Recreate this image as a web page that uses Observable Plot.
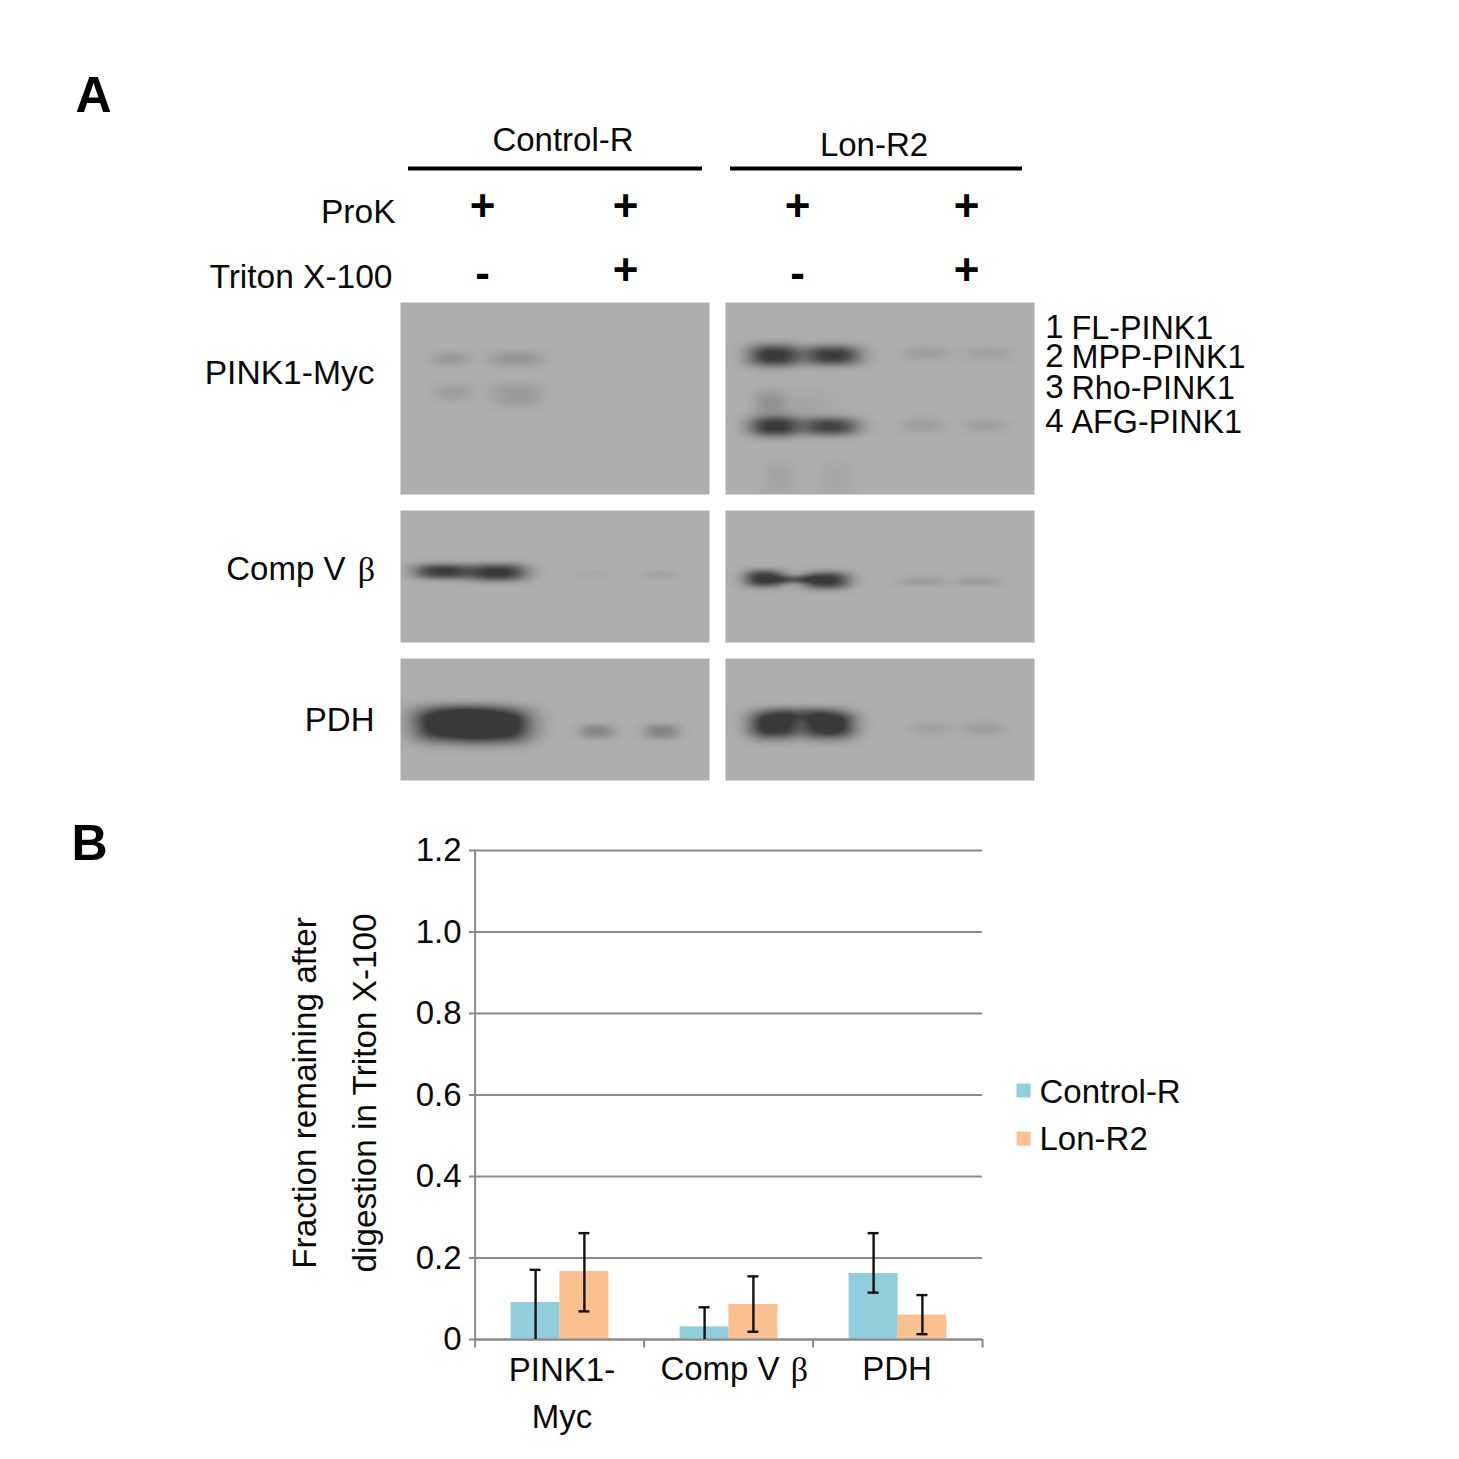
<!DOCTYPE html>
<html><head><meta charset="utf-8">
<script src="https://cdn.jsdelivr.net/npm/d3@7"></script>
<script src="https://cdn.jsdelivr.net/npm/@observablehq/plot@0.6"></script>
<style>
html,body{margin:0;padding:0;background:#fff;overflow:hidden}
svg{display:block}
</style></head><body>
<div id="chart"></div>
<script>
// ---- Panel B data
const categories = ["PINK1-Myc", "Comp V β", "PDH"];
const seriesNames = ["Control-R", "Lon-R2"];
const controlValues = [0.091, 0.031, 0.162];
const controlHigh   = [0.171, 0.079, 0.261];
const controlLow    = [0,     0,     0.115];
const lonValues = [0.167, 0.086, 0.060];
const lonHigh   = [0.261, 0.155, 0.109];
const lonLow    = [0.069, 0.019, 0.013];
const yTicks = [0, 0.2, 0.4, 0.6, 0.8, 1.0, 1.2];

// ---- Panel A data: blot lanes
// each band lobe: [centre x, centre y, half width, half height, darkness]
const blotColumns = [[400, 709], [725, 1034]];
const blotRows = [[302, 494], [510, 642], [658, 780]];
const bandLobes = [
  // PINK1-Myc, Control-R
  [450,358,19,7,.18],[516,358,26,8,.22],[452,392,19,9,.13],[516,394,25,12,.18],
  // PINK1-Myc, Lon-R2
  [774,355,26,11,1.05],[832,355,28,10,1.0],[774,426,25,10,1.0],[830,426,28,9,.9],
  [769,403,16,13,.20],[800,410,40,22,.08],[779,477,17,17,.09],[836,477,17,17,.07],
  [927,353,24,7,.13],[988,353,24,7,.11],[922,425,22,8,.12],[985,425,22,7,.12],
  // Comp V beta, Control-R
  [442,571,28,7.5,1.0],[497,572,29,8.5,1.05],[592,573,18,4,.05],[659,574,18,5,.09],
  // Comp V beta, Lon-R2
  [764,578,20,8.5,1.05],[826,580,23,8.5,1.05],[795,579,20,4,.6],[922,581,24,5,.15],[978,581,21,5,.17],
  // PDH, Control-R
  [447,725,33,16,1.3],[497,726,33,16,1.3],[470,712,50,9,.4],[596,731,18,7,.34],[661,731,18,7.5,.36],
  // PDH, Lon-R2
  [774,725,25,13,1.2],[828,725,26,13,1.25],[800,713,40,7,.45],[931,728,22,7,.10],[983,728,22,7,.13]
];

// ---- Text of panel A
const groupLabels = ["Control-R", "Lon-R2"];
const rowLabels = ["ProK", "Triton X-100"];
const proKSigns = ["+", "+", "+", "+"];
const tritonSigns = ["-", "+", "-", "+"];
const blotLabels = ["PINK1-Myc", "Comp V", "PDH"];
const formNumbers = ["1", "2", "3", "4"];
const formNames = ["FL-PINK1", "MPP-PINK1", "Rho-PINK1", "AFG-PINK1"];

const sans = "'Liberation Sans', Arial, sans-serif";
const serif = "'Liberation Serif', 'Times New Roman', serif";
const gel = (x, y) => {
  let d = 0;
  for (const [cx, cy, sx, sy, a] of bandLobes) {
    const u = Math.abs(x - cx) / sx, v = Math.abs(y - cy) / sy;
    d += a * Math.exp(-(Math.pow(u, 2.6) + Math.pow(v, 2.6)));
  }
  return Math.min(d, 1);
};
const blots = blotColumns.flatMap(([x1, x2]) => blotRows.map(([y1, y2]) =>
  Plot.raster({x1, x2, y1, y2, fill: gel, pixelSize: 1})));
const signX = [482, 625, 797, 966];
const T = (data, o) => Plot.text(data, {fontFamily: sans, fontSize: 33, fill: "#0a0a0a", lineAnchor: "middle", ...o});

const panelA = Plot.plot({
  width: 1459, height: 800,
  marginTop: 0, marginRight: 0, marginBottom: 0, marginLeft: 0,
  style: {background: "transparent"},
  x: {domain: [0, 1459], range: [0, 1459], axis: null},
  y: {domain: [0, 800], range: [0, 800], axis: null},
  color: {type: "linear", domain: [0, 1], range: ["#aeaeae", "#3a3a3a"], clamp: true},
  marks: [
    ...blots,
    T(["A"], {x: 75, y: 95, textAnchor: "start", fontSize: 50, fontWeight: "bold", fill: "#000"}),
    T(groupLabels, {x: (d, i) => [562.5, 873.5][i], y: (d, i) => [140, 145][i]}),
    Plot.ruleY(groupLabels, {y: 168, x1: (d, i) => [408, 730][i], x2: (d, i) => [702, 1022][i], stroke: "#000", strokeWidth: 4}),
    T(rowLabels, {x: (d, i) => [395, 392][i], y: (d, i) => [212, 277][i], textAnchor: "end", fontSize: 33.5}),
    T(proKSigns, {x: (d, i) => signX[i], y: 206, fontSize: 44, fontWeight: "bold", fill: "#000"}),
    T(tritonSigns, {x: (d, i) => signX[i], y: (d) => d === "+" ? 270 : 273, fontSize: 44, fontWeight: "bold", fill: "#000"}),
    T(blotLabels, {x: (d, i) => [374, 345, 374][i], y: (d, i) => [373, 569, 720][i], textAnchor: "end", fontSize: (d, i) => i === 0 ? 33.6 : 33}),
    T(["β"], {x: 366, y: 570, fontFamily: serif, fontSize: 34}),
    T(formNumbers, {x: 1063, y: (d, i) => [327, 356, 387, 421][i], textAnchor: "end"}),
    T(formNames, {x: 1071, y: (d, i) => [328, 357, 388, 422][i], textAnchor: "start", fontSize: 32.3})
  ]
});

// ---- Panel B
const bars = categories.map((c, i) => ({cat: c, series: seriesNames[0], value: controlValues[i], hi: controlHigh[i], lo: controlLow[i]}))
  .concat(categories.map((c, i) => ({cat: c, series: seriesNames[1], value: lonValues[i], hi: lonHigh[i], lo: lonLow[i]})));
const half = 24.4;
const ofSeries = (s) => bars.filter((d) => d.series === seriesNames[s]);
const seriesMarks = [0, 1].flatMap((s) => {
  const dx = s === 0 ? -half : half;
  return [Plot.barY(ofSeries(s), {x: "cat", y: "value", fill: "series", dx, insetLeft: 60, insetRight: 60})];
});
const errorMarks = [0, 1].flatMap((s) => {
  const dx = s === 0 ? -half : half;
  const data = ofSeries(s);
  return [
    Plot.ruleX(data, {x: "cat", y1: "lo", y2: "hi", dx, stroke: "#111", strokeWidth: 2.4}),
    Plot.tickY(data, {x: "cat", y: "hi", dx, stroke: "#111", strokeWidth: 2.4, insetLeft: 79, insetRight: 79}),
    Plot.tickY(data.filter((d) => d.lo > 0), {x: "cat", y: "lo", dx, stroke: "#111", strokeWidth: 2.4, insetLeft: 79, insetRight: 79})
  ];
});
const axisGray = "#8a8a8a";
const panelB = Plot.plot({
  width: 1459, height: 659,
  marginTop: 50, marginRight: 477, marginBottom: 120, marginLeft: 474,
  style: {background: "transparent", fontFamily: sans},
  x: {domain: categories, padding: 0, axis: null},
  y: {domain: [0, 1.2], axis: null},
  color: {domain: seriesNames, range: ["#92cddc", "#fac090"]},
  marks: [
    Plot.ruleY(yTicks, {stroke: axisGray, strokeWidth: 2}),
    Plot.tickY(yTicks, {x: () => categories[0], y: (d) => d, insetRight: 163, dx: -6, stroke: axisGray, strokeWidth: 2}),
    ...seriesMarks,
    Plot.ruleY([0], {stroke: axisGray, strokeWidth: 2}),
    Plot.ruleX(categories, {x: (d) => d, y1: 0, y2: -0.021, dx: -84.9, stroke: axisGray, strokeWidth: 2}),
    Plot.ruleX(categories.slice(-1), {x: (d) => d, y1: 0, y2: -0.021, dx: 84.6, stroke: axisGray, strokeWidth: 2}),
    Plot.ruleX(categories.slice(0, 1), {x: (d) => d, y1: 0, y2: 1.2, dx: -84.9, stroke: axisGray, strokeWidth: 2}),
    ...errorMarks,
    T(yTicks, {frameAnchor: "left", y: (d) => d, dx: -13, textAnchor: "end", text: (d) => d === 0 ? "0" : d.toFixed(1)}),
    T(["PINK1-\nMyc"], {x: () => categories[0], y: 0, dy: 9, lineAnchor: "top", dx: 2, lineHeight: 1.4}),
    T(["Comp V"], {x: () => categories[1], y: 0, dy: 17, lineAnchor: "top", dx: -9}),
    T(["β"], {x: () => categories[1], y: 0, dy: 17, lineAnchor: "top", dx: 70.5, fontFamily: serif, fontSize: 34}),
    T(["PDH"], {x: () => categories[2], y: 0, dy: 17, lineAnchor: "top", dx: -1}),
    T(["Fraction remaining after\ndigestion in Triton X-100"], {frameAnchor: "left", y: 0.605, dx: -148, textAnchor: "middle", rotate: -90, lineHeight: 1.82, fontSize: 33.3}),
    T(["B"], {frameAnchor: "left", y: 1.217, dx: -403, textAnchor: "start", fontSize: 50, fontWeight: "bold", fill: "#000"}),
    Plot.dot(seriesNames, {frameAnchor: "left", y: (d, i) => [0.611, 0.493][i], dx: 549, symbol: "square", r: 7.9, fill: (d) => d}),
    T(seriesNames, {frameAnchor: "left", y: (d, i) => [0.607, 0.49][i], dx: 565, textAnchor: "start"})
  ]
});
document.getElementById("chart").append(panelA, panelB);
</script>
</body></html>
